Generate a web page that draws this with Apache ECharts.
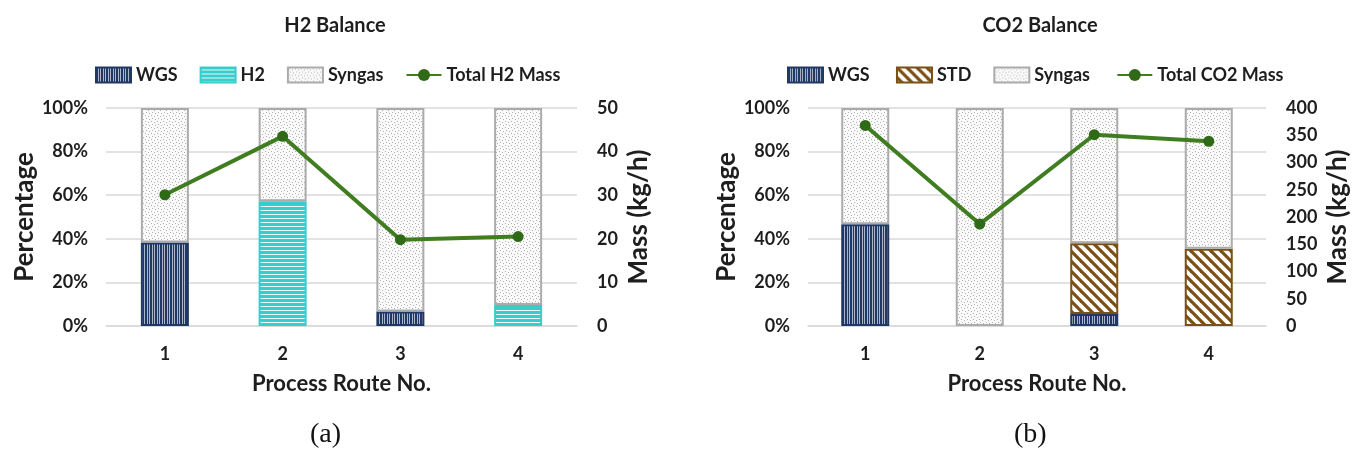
<!DOCTYPE html>
<html><head><meta charset="utf-8">
<script src="https://cdn.jsdelivr.net/npm/echarts@6/dist/echarts.min.js"></script>
<style>html,body{margin:0;padding:0;background:#fff}#c{width:1352px;height:455px}</style>
</head><body><div id="c"></div>
<script>
// ---- data ----
const categories = ['1', '2', '3', '4'];
// (a) H2 balance, percentages
const h2WGS    = [38.3, 0, 6.6, 0];
const h2H2     = [0, 57.2, 0, 9.6];
const h2Syngas = [61.7, 42.8, 93.4, 90.4];
const h2Mass   = [30.1, 43.5, 19.8, 20.5];
// (b) CO2 balance, percentages
const co2WGS    = [46.7, 0, 5.5, 0];
const co2STD    = [0, 0, 32.5, 35.4];
const co2Syngas = [53.3, 100, 62.0, 64.6];
const co2Mass   = [368, 187, 351, 339];

// ---- patterns ----
function pat(w, h, draw) {
  const c = document.createElement('canvas'); c.width = w; c.height = h;
  const g = c.getContext('2d'); draw(g, w, h);
  return { image: c, repeat: 'repeat' };
}
const NAVY = '#1F3864', CYAN = '#38CDCD', BROWN = '#7B5014', GRAY = '#ABABAB', GREEN = '#3F7D20';
const wgsPat = pat(5, 6, (g) => {
  g.fillStyle = NAVY; g.fillRect(0, 0, 5, 6);
  g.fillStyle = '#AEB5C8'; g.fillRect(2, 0, 1, 6); g.fillRect(4, 0, 1, 6);
});
const h2Pat = pat(4, 4, (g) => {
  g.fillStyle = CYAN; g.fillRect(0, 0, 4, 4);
  g.fillStyle = '#E8FAFA'; g.fillRect(0, 2, 4, 1);
});
const synPat = pat(6, 6, (g) => {
  g.fillStyle = '#FAFAFA'; g.fillRect(0, 0, 6, 6);
  g.fillStyle = '#B0B0B0'; g.fillRect(1, 1, 1, 1); g.fillRect(4, 2, 1, 1); g.fillRect(2, 4, 1, 1); g.fillRect(5, 5, 1, 1);
});
const stdPat = pat(10, 10, (g) => {
  g.fillStyle = '#FFFFFF'; g.fillRect(0, 0, 10, 10);
  g.strokeStyle = BROWN; g.lineWidth = 3.2;
  for (let k = -2; k <= 2; k++) { g.beginPath(); g.moveTo(k * 10 - 2, -2); g.lineTo(k * 10 + 12, 12); g.stroke(); }
});

const nz = a => a.map(v => v === 0 ? null : v);

const FONT = 'Lato';
const TXT = '#1E1E1E';
const lab = { fontFamily: FONT, fontWeight: 'bold', fontSize: 18, color: TXT };
const nameFont = { fontFamily: FONT, fontWeight: 'bold', fontSize: 26, color: TXT };

function yPct(gi) {
  return { type: 'value', gridIndex: gi, min: 0, max: 100, interval: 20, name: 'Percentage',
    nameLocation: 'middle', nameGap: 67, nameTextStyle: nameFont,
    axisLabel: Object.assign({ formatter: '{value}%', margin: 18 }, lab),
    axisLine: { show: false }, axisTick: { show: false },
    splitLine: { lineStyle: { color: '#D9D9D9', width: 1.5 } } };
}
function yMass(gi, max, interval, gap) {
  return { type: 'value', gridIndex: gi, min: 0, max: max, interval: interval, name: 'Mass (kg/h)', position: 'right',
    nameLocation: 'middle', nameGap: gap, nameTextStyle: nameFont,
    axisLabel: Object.assign({ margin: 20 }, lab),
    axisLine: { show: false }, axisTick: { show: false }, splitLine: { show: false } };
}
function xCat(gi) {
  return { type: 'category', gridIndex: gi, data: categories, name: 'Process Route No.',
    nameLocation: 'middle', nameGap: 47, nameTextStyle: { fontFamily: FONT, fontWeight: 'bold', fontSize: 22, color: TXT },
    axisLabel: Object.assign({ margin: 19 }, lab),
    axisLine: { lineStyle: { color: '#D9D9D9', width: 1.5 } }, axisTick: { show: false } };
}
function barS(name, data, color, border, xi, yi, stack) {
  return { name: name, type: 'bar', stack: stack, xAxisIndex: xi, yAxisIndex: yi, barWidth: 48,
    data: nz(data), itemStyle: { color: color, borderColor: border, borderWidth: 2 } };
}
function lineS(name, data, xi, yi) {
  return { name: name, type: 'line', xAxisIndex: xi, yAxisIndex: yi, data: data, symbol: 'circle', symbolSize: 11,
    lineStyle: { color: GREEN, width: 4 }, itemStyle: { color: '#2F6A17' }, z: 5 };
}
const legBase = { top: 61, itemWidth: 35, itemHeight: 15, itemGap: 22,
  textStyle: { fontFamily: FONT, fontWeight: 'bold', fontSize: 18, color: TXT } };

const option = {
  animation: false,
  backgroundColor: '#fff',
  title: [
    { text: 'H2 Balance', left: 330, top: 11, textAlign: 'center', textStyle: { fontFamily: FONT, fontWeight: 'bold', fontSize: 20, color: TXT } },
    { text: 'CO2 Balance', left: 1035, top: 11, textAlign: 'center', textStyle: { fontFamily: FONT, fontWeight: 'bold', fontSize: 20, color: TXT } }
  ],
  legend: [
    Object.assign({}, legBase, { left: 90, data: [
      { name: 'WGS', icon: 'rect' }, { name: 'H2', icon: 'rect' }, { name: 'Syngas', icon: 'rect' }, { name: 'Total H2 Mass' }] }),
    Object.assign({}, legBase, { left: 782, data: [
      { name: 'WGS ', icon: 'rect' }, { name: 'STD', icon: 'rect' }, { name: 'Syngas ', icon: 'rect' }, { name: 'Total CO2 Mass' }] })
  ],
  grid: [
    { left: 106, width: 471, top: 108, bottom: 129 },
    { left: 808, width: 460, top: 108, bottom: 129 }
  ],
  xAxis: [xCat(0), xCat(1)],
  yAxis: [yPct(0), yMass(0, 50, 10, 49), yPct(1), yMass(1, 400, 50, 59)],
  series: [
    barS('WGS', h2WGS, wgsPat, NAVY, 0, 0, 'a'),
    barS('H2', h2H2, h2Pat, CYAN, 0, 0, 'a'),
    barS('Syngas', h2Syngas, synPat, GRAY, 0, 0, 'a'),
    lineS('Total H2 Mass', h2Mass, 0, 1),
    barS('WGS ', co2WGS, wgsPat, NAVY, 1, 2, 'b'),
    barS('STD', co2STD, stdPat, BROWN, 1, 2, 'b'),
    barS('Syngas ', co2Syngas, synPat, GRAY, 1, 2, 'b'),
    lineS('Total CO2 Mass', co2Mass, 1, 3)
  ],
  graphic: [
    { type: 'text', left: 310, top: 421, style: { text: '(a)', font: '28px "Liberation Serif"', fill: '#111' } },
    { type: 'text', left: 1014, top: 421, style: { text: '(b)', font: '28px "Liberation Serif"', fill: '#111' } }
  ]
};
const chart = echarts.init(document.getElementById('c'), null, { renderer: 'canvas' });
chart.setOption(option);
</script></body></html>
